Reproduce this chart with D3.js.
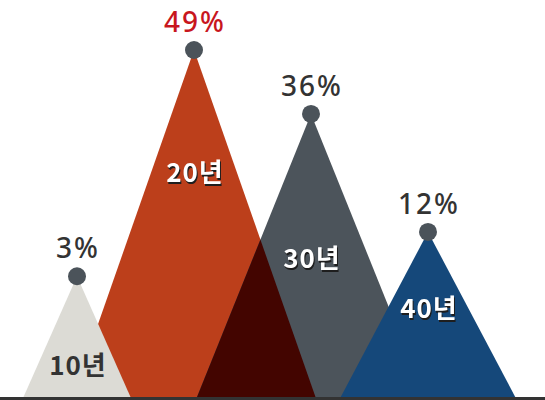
<!DOCTYPE html>
<html>
<head>
<meta charset="utf-8">
<script src="https://cdn.jsdelivr.net/npm/d3@7"></script>
<style>
  html, body { margin: 0; padding: 0; background: #fff; }
  #chart { width: 545px; height: 400px; }
</style>
</head>
<body>
<div id="chart"></div>
<script>
// share of each tenure group, drawn as overlapping peaks
const categories = ["10년", "20년", "30년", "40년"];
const shares = [3, 49, 36, 12];
const shareLabels = ["3%", "49%", "36%", "12%"];

const palette = ["#dcdbd5", "#bc3f1b", "#4c545b", "#15487a"];
const overlapColor = "#430500";
// where the category name sits, as a fraction of the peak height
const labelDepth = [0.82, 0.38, 0.545, 0.52];

function drawPeaks() {
    const width = 545, height = 400;
    const baseY = 397;

    const svg = d3.select("#chart").append("svg")
        .attr("width", width)
        .attr("height", height)
        .attr("viewBox", `0 0 ${width} ${height}`);

    const x = d3.scalePoint().domain(categories).range([77, 428]);
    const y = d3.scaleLinear().domain([0, d3.max(shares)]).range([291, 50]);
    const half = d3.scaleLog().domain(d3.extent(shares)).range([53.5, 121.5]);

    const data = categories.map((c, i) => ({
        cat: c, value: shares[i], label: shareLabels[i], color: palette[i], depth: labelDepth[i], i
    }));
    const tri = d => {
        const cx = x(d.cat), h = half(d.value);
        return `M${cx - h},${baseY}L${cx},${y(d.value)}L${cx + h},${baseY}Z`;
    };

    // biggest peaks at the back
    const order = data.slice().sort((a, b) => b.value - a.value);
    const first = order[0], second = order[1];

    svg.append("defs").append("clipPath").attr("id", "clipTop")
        .append("path").attr("d", tri(first));

    const g = svg.append("g");
    g.append("path").attr("d", tri(first)).attr("fill", first.color);
    g.append("path").attr("d", tri(second)).attr("fill", second.color);
    g.append("path").attr("d", tri(second)).attr("fill", overlapColor).attr("clip-path", "url(#clipTop)");
    order.slice(2).forEach(d => {
        g.append("path").attr("d", tri(d)).attr("fill", d.color);
    });

    // baseline
    svg.append("line")
        .attr("x1", 0).attr("x2", width)
        .attr("y1", baseY + 1.5).attr("y2", baseY + 1.5)
        .attr("stroke", "#333").attr("stroke-width", 3);

    // dots on the peaks
    svg.selectAll(".dot").data(data).enter().append("circle")
        .attr("class", "dot")
        .attr("cx", d => x(d.cat))
        .attr("cy", d => y(d.value))
        .attr("r", 9)
        .attr("fill", "#4b535a");

    // percent labels
    const top = d3.max(shares);
    svg.selectAll(".pct").data(data).enter().append("text")
        .attr("class", "pct")
        .attr("x", d => x(d.cat) + 1)
        .attr("y", d => y(d.value) - 18)
        .attr("text-anchor", "middle")
        .style("font-family", "'Noto Sans', sans-serif")
        .style("font-weight", 500)
        .style("font-size", "28px")
        .style("letter-spacing", "2px")
        .attr("fill", d => d.value === top ? "#c8161e" : "#333")
        .text(d => d.label);

    // category names inside the peaks
    const labelY = d => y(d.value) + (baseY - y(d.value)) * d.depth;
    const lightFill = d => d3.hsl(d.color).l > 0.7;

    svg.selectAll(".cat").data(data).enter().append("text")
        .attr("class", "cat")
        .attr("x", d => x(d.cat) + 1)
        .attr("y", labelY)
        .attr("text-anchor", "middle")
        .style("font-family", "'Noto Sans CJK KR', sans-serif")
        .style("font-weight", "bold")
        .style("font-size", "26px")
        .style("letter-spacing", "1px")
        .style("filter", d => lightFill(d) ? null : "drop-shadow(1.5px 2px 0 #1e1e1e)")
        .attr("fill", d => lightFill(d) ? "#333" : "#fff")
        .text(d => d.cat);
}

drawPeaks();
</script>
</body>
</html>
